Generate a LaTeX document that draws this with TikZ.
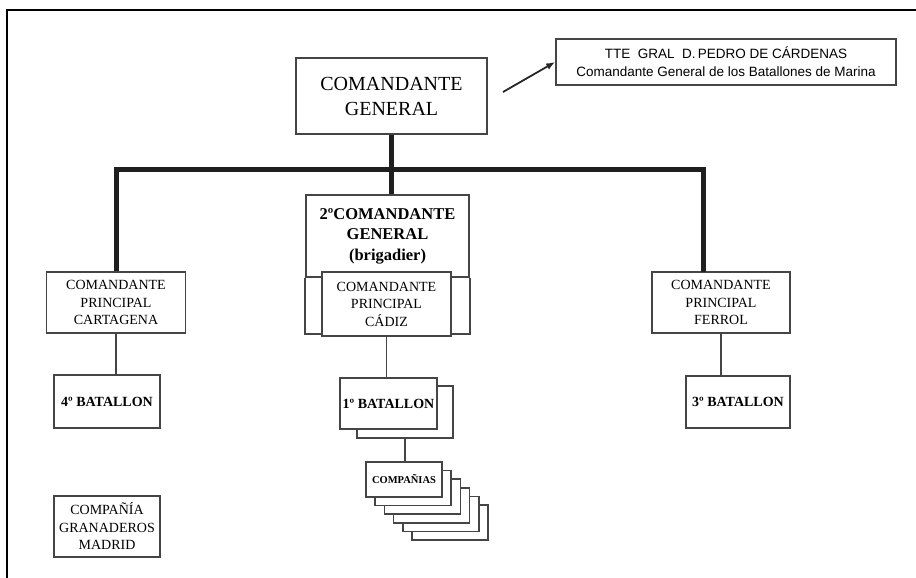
\documentclass[tikz,border=0pt]{standalone}
\usepackage{fontspec}
\setmainfont{Liberation Serif}
\newfontfamily\sansf{Liberation Sans}
\usetikzlibrary{arrows.meta}
\definecolor{boxgray}{HTML}{454545}
\tikzset{
  box/.style={draw=boxgray,line width=1.7pt,fill=white,inner sep=0pt,align=center,
    font=\fontsize{14}{17.5}\selectfont},
  batbox/.style={box,font=\bfseries\fontsize{14}{17}\selectfont},
  thickline/.style={draw=black!88,line width=5pt},
  thinline/.style={draw=boxgray,line width=1.7pt},
}
\begin{document}
\begin{tikzpicture}[x=1pt,y=-1pt]
        \useasboundingbox (0,0) rectangle (916,578);
        \draw[line width=1.6pt] (7,578) -- (7,10) -- (916,10);

        \node[box,minimum width=191pt,minimum height=76pt,font=\fontsize{20}{25}\selectfont] (cg) at (391.5,96) {COMANDANTE\\GENERAL};
        \node[box,minimum width=340pt,minimum height=46pt,font=\sansf\fontsize{13.5}{18}\selectfont] (tte) at (726,62)
          {TTE\ \ GRAL\ \ D.\,PEDRO DE CÁRDENAS\\Comandante General de los Batallones de Marina};
        \coordinate (tail) at (503,92);
        \draw[-{Latex[length=9pt,width=7pt]},line width=1.8pt,black!85] (tail) -- (tte.west);

        \node[box,minimum width=163pt,minimum height=82pt,font=\bfseries\fontsize{16.5}{20.5}\selectfont] (seg) at (387.5,236) {2ºCOMANDANTE\\GENERAL\\(brigadier)};
        \draw[thinline] (seg.south west) -- ++(0,56) -| (seg.south east);
        \node[box,minimum width=129pt,minimum height=64pt] (cadiz) at (386.5,304) {COMANDANTE\\PRINCIPAL\\CÁDIZ};
        \node[box,minimum width=139pt,minimum height=61pt] (cart) at (116,302.5) {COMANDANTE\\PRINCIPAL\\CARTAGENA};
        \node[box,minimum width=138pt,minimum height=61pt] (ferrol) at (721,302.5) {COMANDANTE\\PRINCIPAL\\FERROL};

        \coordinate (bar) at (392,169);
        \coordinate (fdrop) at (703,272);
        \draw[thickline] (cg.south) -- (cg.south |- seg.north);
        \draw[thickline] (cart.north) |- (bar) -| (fdrop);

        \node[batbox,minimum width=106pt,minimum height=53pt] (bat4) at (107,401.5) {4º BATALLON};
        \node[box,minimum width=106pt,minimum height=61pt] (gran) at (107,526.5) {COMPAÑÍA\\GRANADEROS\\MADRID};
        \node[box,minimum width=96pt,minimum height=52pt] (bat1b) at (405,412) {};
        \node[batbox,minimum width=97pt,minimum height=51pt] (bat1) at (388.5,403.5) {1º BATALLON};
        \node[batbox,minimum width=104pt,minimum height=52pt] (bat3) at (738,402) {3º BATALLON};

        \foreach \i in {5,4,...,1}
        {\node[box,minimum width=76pt,minimum height=35pt] (comp\i) at (404+9.2*\i,479.5+8.6*\i) {};}
        \node[box,minimum width=76pt,minimum height=35pt,font=\bfseries\fontsize{10.5}{12}\selectfont] (comp) at (404,479.5) {COMPAÑIAS};

        \draw[thinline] (cart.south) -- (cart.south |- bat4.north);
        \draw[thinline] (cadiz.south) -- (cadiz.south |- bat1.north);
        \draw[thinline] (bat1b.south) -- (bat1b.south |- comp.north);
        \draw[thinline] (ferrol.south) -- (ferrol.south |- bat3.north);
      \end{tikzpicture}
\end{document}
